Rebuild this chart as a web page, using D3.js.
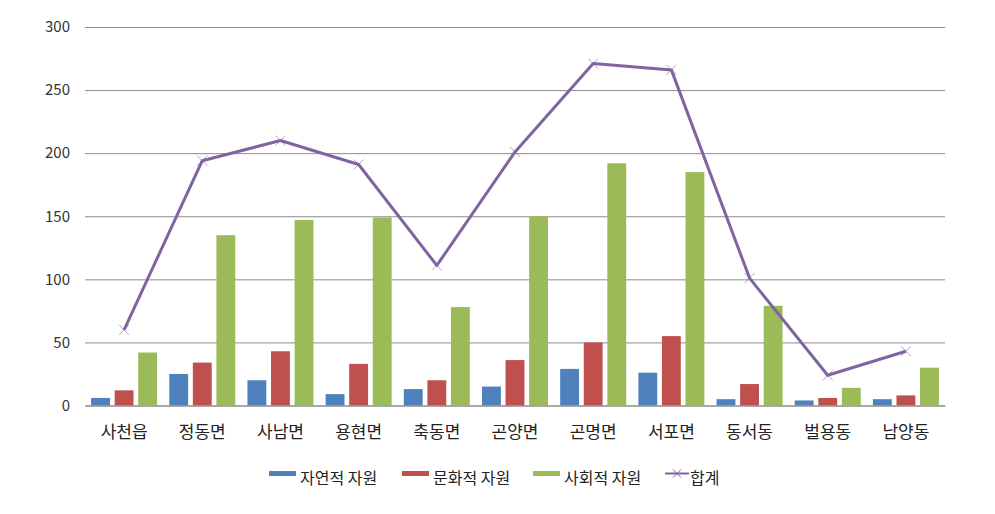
<!DOCTYPE html>
<html><head><meta charset="utf-8">
<script src="https://cdn.jsdelivr.net/npm/d3@7"></script>
<style>body{margin:0;background:#fff}svg{display:block}text{font-family:"Noto Sans CJK KR","Noto Sans",sans-serif}</style>
</head><body><svg id="c" width="995" height="514"></svg>
<script>
const categories = ["사천읍","정동면","사남면","용현면","축동면","곤양면","곤명면","서포면","동서동","벌용동","남양동"];
const natural = [6,25,20,9,13,15,29,26,5,4,5];
const cultural = [12,34,43,33,20,36,50,55,17,6,8];
const social = [42,135,147,149,78,150,192,185,79,14,30];
const total = [60,194,210,191,111,201,271,266,101,24,43];
const seriesNames = ["자연적 자원","문화적 자원","사회적 자원","합계"];
const colors = ["#4F81BD","#C0504D","#9BBB59","#8064A2"];
const yTicks = [0,50,100,150,200,250,300];

const svg = d3.select("#c");
const L=85, R=945, T=27, B=405.5;
const x = d3.scaleBand().domain(categories).range([L,R]).paddingInner(0).paddingOuter(0);
const y = d3.scaleLinear().domain([0,300]).range([B,T]);
const sub = d3.scaleBand().domain([0,1,2]).range([0,66]).paddingInner(0.2);

// grid
const yAxis = d3.axisLeft(y).tickValues(yTicks).tickSize(-(R-L)).tickPadding(15);
const ga = svg.append("g").attr("transform",`translate(${L},0)`).call(yAxis);
ga.select(".domain").remove();
ga.selectAll(".tick line").attr("stroke","#8c8c8c").attr("stroke-width",1);
ga.selectAll(".tick text").attr("font-size",15).attr("fill","#333");

const bars = [natural,cultural,social];
bars.forEach((arr,si)=>{
  svg.append("g").selectAll("rect").data(arr).join("rect")
    .attr("x",(d,i)=>x(categories[i])+x.bandwidth()/2-33+sub(si))
    .attr("width",sub.bandwidth())
    .attr("y",d=>y(d)).attr("height",d=>y(0)-y(d))
    .attr("fill",colors[si]);
});

// x axis
const xa = svg.append("g").attr("transform",`translate(0,${B})`).call(d3.axisBottom(x).tickSize(0).tickPadding(20));
xa.select(".domain").attr("stroke","#8c8c8c");
xa.selectAll(".tick text").attr("font-size",17).attr("fill","#222");

// line
const cx = (i)=>x(categories[i])+x.bandwidth()/2;
svg.append("path").datum(total)
  .attr("d",d3.line().x((d,i)=>cx(i)).y(d=>y(d)))
  .attr("fill","none").attr("stroke",colors[3]).attr("stroke-width",3).attr("stroke-linejoin","round");
const mk = svg.append("g");
total.forEach((d,i)=>{
  const px=cx(i), py=y(d), s=5;
  mk.append("path").attr("d",`M${px-s},${py-s}L${px+s},${py+s}M${px-s},${py+s}L${px+s},${py-s}`)
    .attr("stroke",colors[3]).attr("stroke-width",1).attr("opacity",0.6);
});

// legend
const leg = svg.append("g");
const lx = [269,402,533,665];
seriesNames.forEach((n,i)=>{
  if(i<3){
    leg.append("rect").attr("x",lx[i]).attr("y",471).attr("width",27).attr("height",5).attr("fill",colors[i]);
  } else {
    leg.append("line").attr("x1",lx[i]).attr("x2",lx[i]+24).attr("y1",473.5).attr("y2",473.5).attr("stroke",colors[3]).attr("stroke-width",2);
    leg.append("path").attr("d",`M${lx[i]+8},${469.5}L${lx[i]+16},${477.5}M${lx[i]+8},${477.5}L${lx[i]+16},${469.5}`).attr("stroke",colors[3]).attr("stroke-width",1);
  }
  leg.append("text").attr("x",lx[i]+(i<3?31:25)).attr("y",484).attr("font-size",16).attr("fill","#222").text(n);
});
</script></body></html>
